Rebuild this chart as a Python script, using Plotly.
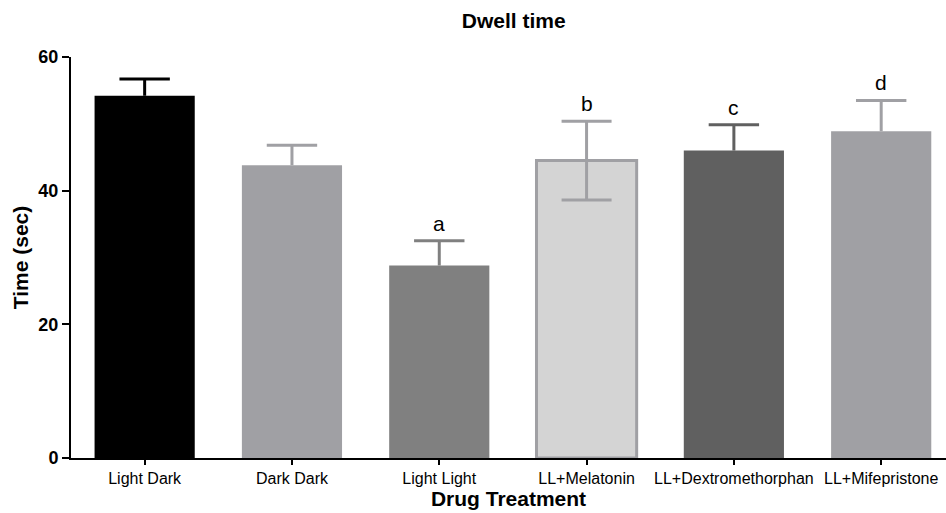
import plotly.graph_objects as go

categories = ["Light Dark", "Dark Dark", "Light Light", "LL+Melatonin", "LL+Dextromethorphan", "LL+Mifepristone"]
means = [54.2, 43.8, 28.8, 44.5, 46.0, 48.9]
sem = [2.5, 3.0, 3.7, 5.9, 3.85, 4.6]
sig_letters = ["", "", "a", "b", "c", "d"]
fill_colors = ["#000000", "#a0a0a4", "#808080", "#d4d4d4", "#606060", "#a0a0a4"]
edge_colors = ["#000000", "#a0a0a4", "#808080", "#a0a0a4", "#606060", "#a0a0a4"]
hollow = [False, False, False, True, False, False]

FONT = "Arial, Liberation Sans, sans-serif"

fig = go.Figure()
for i, cat in enumerate(categories):
    fig.add_trace(go.Bar(
        x=[cat], y=[means[i]], width=0.68,
        marker=dict(color=fill_colors[i],
                    line=dict(color=edge_colors[i], width=3 if hollow[i] else 0)),
        error_y=dict(type="data", array=[sem[i]],
                     arrayminus=[sem[i] if hollow[i] else 0],
                     symmetric=False, color=edge_colors[i],
                     thickness=3, width=25 if hollow[i] else 0),
        showlegend=False, hoverinfo="skip",
    ))

# upper caps for filled bars (no lower cap on the bar top)
cap_x = [c for c, h in zip(categories, hollow) if not h]
cap_y = [m + s for m, s, h in zip(means, sem, hollow) if not h]
cap_col = [c for c, h in zip(edge_colors, hollow) if not h]
fig.add_trace(go.Scatter(
    x=cap_x, y=cap_y, mode="markers",
    marker=dict(symbol="line-ew", size=36, color=cap_col,
                line=dict(color=cap_col, width=3)),
    showlegend=False, hoverinfo="skip",
))

for i, cat in enumerate(categories):
    if sig_letters[i]:
        fig.add_annotation(x=cat, y=means[i] + sem[i], text=sig_letters[i],
                           showarrow=False, yanchor="bottom", yshift=4,
                           font=dict(family=FONT, size=21, color="#000000"))

fig.update_layout(
    width=946, height=513,
    margin=dict(l=71, r=0, t=57, b=55),
    paper_bgcolor="white", plot_bgcolor="white",
    barmode="overlay",
    title=dict(text="<b>Dwell time</b>", x=0.543, xanchor="center", y=0.96, yanchor="middle",
               font=dict(family=FONT, size=21, color="#000000")),
    font=dict(family=FONT, color="#000000"),
)
fig.update_xaxes(
    range=[-0.5, 5.44], showline=True, linecolor="#000000", linewidth=2,
    ticks="outside", ticklen=5, tickwidth=2, tickcolor="#000000",
    tickfont=dict(family=FONT, size=16), showgrid=False, zeroline=False,
    title=dict(text="<b>Drug Treatment</b>", font=dict(family=FONT, size=21), standoff=3),
)
fig.update_yaxes(
    range=[0, 60], tickvals=[0, 20, 40, 60], showline=True, linecolor="#000000", linewidth=2,
    ticks="outside", ticklen=7, tickwidth=2, tickcolor="#000000",
    tickfont=dict(family=FONT, size=18, weight="bold"), showgrid=False, zeroline=False,
    title=dict(text="<b>Time (sec)</b>", font=dict(family=FONT, size=21), standoff=4),
)

fig.write_html("out.html", config={"displayModeBar": False},
               post_script="document.body.style.margin='0';document.body.style.padding='0';")
